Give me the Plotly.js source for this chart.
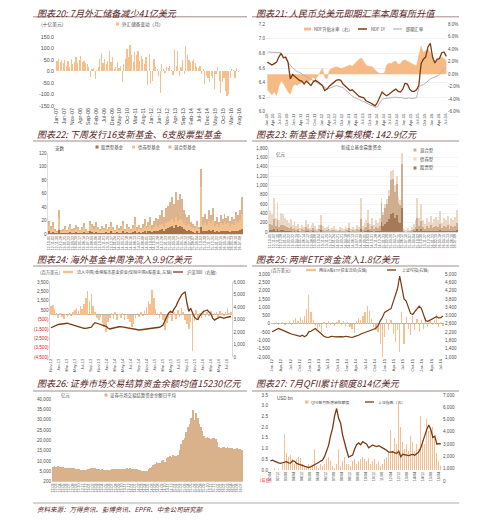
<!DOCTYPE html>
<html><head><meta charset="utf-8">
<script src="https://cdn.plot.ly/plotly-3.0.1.min.js"></script>
<style>html,body{margin:0;padding:0;background:#fff;}#chart{width:499px;height:520px;}</style>
</head><body><div id="chart"></div>
<script>
// ---------- DATA ----------
const titles = ['图表20: 7月外汇储备减少41亿美元','图表21: 人民币兑美元即期汇率本周有所升值','图表22: 下周发行16支新基金、6支股票型基金','图表23: 新基金预计募集规模: 142.9亿元','图表24: 海外基金单周净流入9.9亿美元','图表25: 两岸ETF资金流入1.8亿美元','图表26: 证券市场交易结算资金余额均值15230亿元','图表27: 7月QFII累计额度814亿美元'];
const footer = '资料来源：万得资讯、彭博资讯、EPFR、中金公司研究部';

// P20 monthly FX reserve change (bn USD) Jan-07..Jul-16
const fxResChange = [45,52,42,50,38,47,25,45,20,55,30,40,
 62,35,48,68,40,45,38,30,20,-25,10,15,
 -35,5,20,55,80,38,53,30,45,90,40,60,
 10,20,40,15,25,-47,30,55,95,60,114,70,
 40,85,70,90,45,65,55,30,60,-60,74,-54,
 -40,53,20,10,-20,-95,30,10,-5,20,15,25,
 5,-15,96,25,90,-20,20,50,-10,110,70,50,
 40,45,55,35,20,15,25,-10,10,-55,-20,-30,
 -45,-20,-30,-75,-10,17,-40,-94,-45,-30,-87,-108,
 -99,-29,10,7,-28,13,-4];
const p20Ticks = ['-150.0','-100.0','-50.0','0.0','50.0','100.0','150.0'];

// P21 monthly Jan-10..Jul-16
const ndf1y = [6.68,6.66,6.64,6.66,6.68,6.75,6.80,6.74,6.75,6.68,6.45,6.51,6.48,6.45,6.43,6.42,6.38,6.42,6.39,6.36,6.41,6.43,6.41,6.38,6.36,6.29,6.31,6.35,6.38,6.41,6.43,6.44,6.43,6.38,6.35,6.31,6.29,6.30,6.27,6.24,6.21,6.20,6.19,6.15,6.14,6.12,6.10,6.08,6.13,6.21,6.27,6.24,6.22,6.24,6.27,6.29,6.31,6.28,6.27,6.31,6.39,6.38,6.31,6.28,6.28,6.30,6.36,6.66,6.72,6.75,6.89,6.94,6.75,6.67,6.72,6.73,6.81,6.82,6.76];
const spotRate = [6.82,6.82,6.82,6.82,6.82,6.82,6.81,6.76,6.72,6.67,6.63,6.60,6.58,6.55,6.54,6.52,6.50,6.48,6.47,6.44,6.42,6.40,6.39,6.37,6.36,6.33,6.31,6.32,6.33,6.35,6.36,6.35,6.34,6.33,6.30,6.27,6.24,6.21,6.19,6.18,6.16,6.15,6.14,6.12,6.11,6.09,6.08,6.06,6.07,6.12,6.17,6.18,6.18,6.18,6.19,6.20,6.20,6.20,6.20,6.19,6.18,6.19,6.19,6.18,6.19,6.19,6.33,6.36,6.37,6.39,6.42,6.45,6.46,6.48,6.49,6.51,6.55,6.59,6.61];
const ndfPremium = [-2.5,-3.0,-3.3,-2.8,-3.4,-2.0,-1.0,-1.5,-2.2,-2.8,-3.2,
 -2.0,-1.6,-1.8,-1.5,-1.4,-1.2,-1.0,-1.3,-0.8,-0.5,-0.8,-0.3,
 0.3,1.0,-0.5,-0.8,
 0.6,0.9,1.0,1.2,1.1,0.9,1.0,1.2,1.4,1.5,1.3,1.7,2.0,2.4,2.6,2.0,1.5,1.3,1.3,1.1,0.6,
 0.3,0.1,0.2,0.2,
 1.5,1.8,1.7,2.0,2.1,1.6,1.7,2.2,2.3,2.1,1.9,1.6,1.5,1.4,
 3.0,4.5,3.5,3.8,4.0,3.5,2.8,2.0,2.5,2.6,2.8,2.5,2.2];
const p21Right = ['-6.0%','-4.0%','-2.0%','0.0%','2.0%','4.0%','6.0%','8.0%'];

// P22 new funds count (biweekly)
const stock22 = [4,2,3,1,1,6,1,2,2,1,2,3,1,2,3,2,1,2,3,1,1,4,3,2,3,2,1,2,2,3,1,2,4,2,1,3,2,2,4,1,3,2,1,3,5,2,3,2,3,4,2,4,5,3,4,5,4,6,7,5,8,9,10,12,9,13,10,12,11,7,6,5,6,4,3,2,4,2,10,4,5,4,6,5,6,3,4,3,5,4,5,4,5,3,4,4,5,4,6,8];
const bond22 = [9,6,8,4,2,18,3,3,6,3,5,7,3,4,6,5,3,5,7,4,2,9,7,6,8,5,4,6,4,7,3,5,8,5,3,6,4,6,9,4,7,5,3,6,10,4,6,4,6,8,5,7,9,5,7,8,6,7,8,6,9,9,10,11,9,12,10,11,10,9,8,8,9,7,6,5,9,5,60,10,12,9,14,11,15,9,11,8,12,10,13,11,12,9,11,10,14,12,15,22];
const mixed22 = [7,4,7,3,2,12,2,3,4,2,3,5,3,3,5,4,2,3,6,3,2,7,5,4,7,3,3,4,3,5,3,4,6,3,2,5,3,4,7,3,5,4,3,4,10,4,5,3,6,10,5,7,11,6,9,11,12,15,20,14,21,24,28,32,27,37,30,37,31,19,16,12,13,7,6,5,7,3,27,11,13,9,15,12,17,8,10,7,11,8,12,9,10,8,11,8,13,12,15,25];

// P23 new fund size (亿元)
const stock23 = [40,40,70,30,60,20,40,40,30,20,20,30,10,20,10,20,10,10,10,30,20,10,10,20,10,10,10,40,10,10,10,10,10,10,10,10,0,10,10,10,10,10,20,10,10,10,10,10,70,10,20,30,50,20,30,10,30,20,30,220,130,180,210,270,390,400,300,360,220,200,510,10,0,10,0,10,20,20,70,30,60,20,20,30,20,30,20,30,30,20,40,20,30,30,30,20,30,20,30,50];
const mixed23 = [130,110,210,90,200,80,120,110,90,80,60,80,50,70,40,50,20,50,30,80,50,30,40,60,40,20,50,110,40,20,30,50,20,30,40,20,20,30,20,20,40,30,60,20,30,20,50,30,210,40,60,80,140,50,90,50,80,60,90,400,230,330,390,500,720,730,550,660,410,380,940,20,10,20,20,30,50,80,220,90,180,80,50,90,70,110,60,80,100,80,140,60,90,80,110,50,90,80,100,140];
const bond23 = [280,230,440,180,390,150,240,230,180,150,120,170,90,140,70,110,50,90,60,150,110,50,90,120,70,30,90,210,70,50,60,90,30,50,80,40,30,70,50,30,70,50,120,40,70,30,90,60,440,70,120,150,280,110,180,90,150,120,180,110,60,90,100,130,190,190,150,180,120,100,250,30,30,50,30,60,110,150,440,180,360,150,110,180,130,210,120,170,200,150,270,120,180,150,210,110,180,150,200,290];

// P24 overseas fund flows (mn USD) and CSI300
const flows24 = [900,1100,600,200,-300,150,-200,-400,100,-250,200,-150,300,500,700,400,900,600,1200,1800,2500,1500,2200,900,300,-300,-600,-200,-900,-1300,-1800,-800,-300,200,-400,300,-600,100,-300,200,-500,100,-400,-800,-1300,-1000,-300,200,-200,300,-100,400,800,1500,1200,2700,1800,600,200,-300,300,-500,-1600,-900,-300,400,-700,300,-400,500,-200,700,300,-600,-1000,-1500,-800,-3900,-700,500,-400,200,-300,400,-200,300,-100,400,-300,200,300,-200,400,200,-150,300,700,200,300];
const csi300 = [2340,2420,2500,2560,2600,2620,2640,2660,2720,2700,2650,2600,2560,2500,2460,2430,2380,2330,2300,2290,2320,2350,2380,2600,2750,2700,2640,2600,2560,2500,2450,2320,2240,2280,2330,2370,2400,2420,2430,2400,2380,2360,2340,2300,2270,2230,2200,2180,2160,2180,2200,2210,2220,2240,2250,2270,2290,2320,2350,2380,2450,2560,2900,3250,3500,3650,3550,3850,4050,4400,4700,4950,5100,5200,4300,3650,3900,3500,3200,3050,3000,3300,3500,3650,3700,3760,3600,3450,3100,2950,3050,3100,3200,3150,3100,3150,3200,3220,3240];
const p24LeftVals = [3500,2500,1500,500,-500,-1500,-2500,-3500,-4500];
const p24LeftText = ['3,500','2,500','1,500','500','<span style="color:#e02020">(500)</span>','<span style="color:#e02020">(1,500)</span>','<span style="color:#e02020">(2,500)</span>','<span style="color:#e02020">(3,500)</span>','<span style="color:#e02020">(4,500)</span>'];

// P25 cross-strait ETF flows and SH composite
const etf25 = [50,-30,80,-50,30,100,-80,60,150,-100,200,350,150,400,250,450,900,1750,700,200,-150,-300,-200,-500,100,-250,150,-100,80,-150,100,200,-80,150,-120,100,-200,-300,-550,150,350,250,500,700,1050,800,300,-200,-350,-500,-1200,-2000,-800,300,-400,200,-600,-1100,-400,-1700,700,-1200,400,-300,-700,500,-400,300,-500,200,-300,400,-200,150,-100,200,600,-200,100,-150];
const shcomp25 = [2215,2280,2340,2380,2330,2280,2220,2180,2150,2110,2080,2050,2010,2000,2050,1980,2050,2210,2240,2300,2370,2280,2180,2050,2000,1960,1940,1980,2000,1970,1980,2000,1980,1970,2000,1980,1960,1940,1980,2010,2050,2110,2150,2165,2200,2240,2300,2340,2400,2500,2740,2900,3150,3230,3280,3330,3650,3950,4300,4900,4300,3800,3700,3350,3100,3050,3190,3350,3450,3350,3000,2750,2720,2780,2820,2860,2940,2890,2900,2980];
const p25LeftVals = [-2000,-1500,-1000,-500,0,500,1000,1500,2000,2500,3000];
const p25LeftText = ['-2,000','-1,500','-1,000','-500','0','500','1,000','1,500','2,000','2,500','3,000'];

// P26 settlement fund balance (亿元)
const settle26 = [7300,7400,7200,7500,7300,7200,6900,6800,6700,6600,6700,6500,6600,6400,6300,6100,6000,5800,5700,5600,5700,6000,6300,6600,6800,6600,6500,6200,6100,5900,6000,5800,5900,5700,5800,5900,6100,6000,6200,6300,6100,6200,6000,6100,6300,6400,6200,6500,6300,6100,6200,6000,5800,5500,5300,5100,5000,5300,6000,6800,7200,8000,8600,9400,8900,9200,9800,10500,9700,11500,12000,12500,11800,12900,12300,12600,13000,15500,18000,20000,21000,24000,26500,28000,31000,34500,30000,33000,31000,28000,26500,24500,22000,21000,21500,21000,20500,21200,21000,20800,19000,17000,16500,16800,16600,16400,16700,16500,16200,16300,15800,16000,16400,15900,15600,15230];
const p26Vals = [0,5000,10000,15000,20000,25000,30000,35000,40000];
const p26Text = ['200','5,000','10,000','15,000','20,000','25,000','30,000','35,000','40,000'];

// P27 QFII quota (USD bn, bimonthly) and SH index
const qfii27 = [0,0,0.1,0,0.05,0,0.3,1.7,0.8,0.6,0.7,0.5,0.3,0.5,0.6,0.55,0.3,0.2,0.15,0.3,0.1,0.2,1.0,0.2,0.1,0.3,0.2,0.3,0.5,0.6,0.4,0.2,0.1,0.3,1.0,0.2,0.4,0.6,0.3,0.3,0.2,0.4,0.5,0.3,0.4,0.5,0.6,0.5,0.4,0.55,0.3,0.4,0.5,0.3,0.4,0.2,0.3,0.5,0.6,0.8,1.85,0.9,1.5,1.2,3.1,2.0,1.3,1.0,1.2,0.9,1.6,1.3,0.9,1.2,1.0,2.5,1.4,1.2,2.4,1.8,2.0,2.0,1.6,0.8,0.4,0.2];
const shIdx27 = [1630,1700,1620,1520,1470,1440,1500,1540,1570,1480,1460,1650,1600,1440,1380,1340,1300,1230,1160,1100,1150,1240,1300,1370,1500,1620,1700,2000,2450,2900,3700,4300,5300,5900,5100,4700,3740,3000,2500,1950,2000,2110,2600,2950,3100,2950,3200,3100,3000,2700,2800,2930,2850,2800,2870,2800,2710,2600,2480,2360,2350,2380,2280,2250,2420,1980,2170,2130,2100,2060,2120,2170,2100,2200,2350,2700,3250,3800,4200,4550,4200,3550,3650,3000,3050,3000];
const p27LeftVals = [0,0.5,1,1.5,2,2.5,3,3.5];

// ---------- HELPERS ----------
const W=499,H=520;
const X=p=>p/W, Y=p=>1-p/H;
const DAY=86400000, MONTH=2629746000;
const CJK='"Noto Sans CJK SC","Noto Sans",sans-serif';
const NUM='"Liberation Sans",Arial,sans-serif';
const ORANGE='#f5c08e', BROWN='#7a3a12', GREY='#b5b5b5', TXT='#4d4d4d';
const tf=(s)=>({size:s||5,color:TXT,family:NUM});
function ax(o){return Object.assign({showgrid:false,zeroline:false,showline:false,ticks:'',tickfont:tf(5),ticklen:0},o);}
function xd(o){return ax(Object.assign({type:'date',tickangle:-90,tickfont:tf(4.5)},o));}

const ann=[], shp=[];
function T(txt,x,y,size,color,extra){ann.push(Object.assign({text:txt,x:X(x),y:Y(y),xref:'paper',yref:'paper',xanchor:'left',yanchor:'middle',showarrow:false,font:{size:size,color:color||TXT,family:CJK}},extra||{}));}
function R(x0,y0,x1,y1,c){shp.push({type:'rect',xref:'paper',yref:'paper',x0:X(x0),x1:X(x1),y0:Y(y1),y1:Y(y0),fillcolor:c,line:{width:0}});}
function L(x0,y0,x1,y1,c,w){shp.push({type:'line',xref:'paper',yref:'paper',x0:X(x0),x1:X(x1),y0:Y(y0),y1:Y(y1),line:{color:c,width:w||1}});}

// ---------- TRACES ----------
const traces=[];
// P20
traces.push({type:'bar',x0:'2007-01-16',dx:MONTH,y:fxResChange,width:MONTH*0.75,marker:{color:ORANGE},xaxis:'x',yaxis:'y'});
// P21 (area on base y2 right axis, lines on overlay y3 left axis)
traces.push({type:'scatter',mode:'lines',x0:'2010-01-15',dx:MONTH,y:ndfPremium,fill:'tozeroy',fillcolor:'#f6bb85',line:{color:'#f6bb85',width:0.5},xaxis:'x2',yaxis:'y2'});
traces.push({type:'scatter',mode:'lines',x0:'2010-01-15',dx:MONTH,y:spotRate,line:{color:GREY,width:1},xaxis:'x2',yaxis:'y3'});
traces.push({type:'scatter',mode:'lines',x0:'2010-01-15',dx:MONTH,y:ndf1y,line:{color:BROWN,width:1.3},xaxis:'x2',yaxis:'y3'});
// P22
const c22=['#a5724c','#f4c08c','#dcb48e'];
[stock22,bond22,mixed22].forEach((arr,k)=>traces.push({type:'bar',x0:'2012-10-05',dx:14*DAY,y:arr,width:14*DAY,marker:{color:c22[k],line:{width:0}},xaxis:'x3',yaxis:'y4'}));
// P23
const c23=['#a57a58','#cfae90','#ecd6c4'];
[stock23,mixed23,bond23].forEach((arr,k)=>traces.push({type:'bar',x0:'2012-10-05',dx:14*DAY,y:arr,width:14*DAY,marker:{color:c23[k],line:{width:0}},xaxis:'x4',yaxis:'y5'}));
// P24
traces.push({type:'bar',x0:'2012-11-02',dx:14*DAY,y:flows24,width:12*DAY,marker:{color:ORANGE},xaxis:'x5',yaxis:'y6'});
traces.push({type:'scatter',mode:'lines',x0:'2012-11-02',dx:14*DAY,y:csi300,line:{color:BROWN,width:1.3},xaxis:'x5',yaxis:'y7'});
// P25
traces.push({type:'bar',x0:'2012-01-06',dx:21*DAY,y:etf25,width:12*DAY,marker:{color:ORANGE},xaxis:'x6',yaxis:'y8'});
traces.push({type:'scatter',mode:'lines',x0:'2012-01-06',dx:21*DAY,y:shcomp25,line:{color:BROWN,width:1.2},xaxis:'x6',yaxis:'y9'});
// P26
traces.push({type:'bar',x0:'2012-03-02',dx:14*DAY,y:settle26,width:14*DAY,marker:{color:'#d9b28b',line:{width:0}},xaxis:'x7',yaxis:'y10'});
// P27
traces.push({type:'bar',x0:'2002-04-15',dx:2*MONTH,y:qfii27,width:MONTH*1.1,marker:{color:ORANGE},xaxis:'x8',yaxis:'y11'});
traces.push({type:'scatter',mode:'lines',x0:'2002-04-15',dx:2*MONTH,y:shIdx27,line:{color:BROWN,width:1.3},xaxis:'x8',yaxis:'y12'});

// ---------- ANNOTATIONS / SHAPES ----------
const TCOL='#5a2626';
const tpos=[[35,12.5],[254,12.5],[35,134.5],[254,134.5],[35,258.5],[254,258.5],[35,382.5],[254,382.5]];
titles.forEach((t,i)=>T(t,tpos[i][0],tpos[i][1],9.1,TCOL,{font:{size:9.1,color:TCOL,family:CJK,style:'italic',weight:'normal'}}));
[[16.8],[141],[266],[391]].forEach(r=>{L(33,r[0],247,r[0],'#8c6f6f',0.8);L(252,r[0],459,r[0],'#8c6f6f',0.8);});
L(33,503,459,503,'#9a9a9a',0.8);
T(footer,35,508.5,6.5,TCOL,{font:{size:6.5,color:TCOL,family:CJK,style:'italic'}});

// P20
T('(十亿美元)',39,24,4.8);
R(116,22.5,119,25.5,ORANGE); T('外汇储备变动（月）',120,24,4.6);
// P21
R(304,27.5,311,30.5,'#f6bb85'); T('NDF升贴水率（右）',312,29,4.3);
L(358,29,367,29,BROWN,1.5); T('NDF 1Y',369,29,4.3);
L(393,29,402,29,GREY,1.2); T('即期汇率',404,29,4.3);
// P22
T('支数',53,148,4.6);
R(95.5,145.5,98.5,148.5,c22[0]); T('股票型基金',99,147,4.4);
R(132,145.5,135,148.5,c22[1]); T('债券型基金',135.5,147,4.4);
R(168.5,145.5,171.5,148.5,c22[2]); T('混合型基金',172,147,4.4);
// P23
T('新成立基金募集资金',339,147,4.5);
T('亿元',274,154,4.5);
R(413.5,148.5,416.5,151.5,c23[1]); T('混合型',418,150,4.4);
R(413.5,157.5,416.5,160.5,c23[2]); T('债券型',418,159,4.4);
R(413.5,166.5,416.5,169.5,c23[0]); T('股票型',418,168,4.4);
// P24
T('(百万美元)',38,272,4.3);
R(63,270.8,73,273.2,ORANGE); T('流入中国/香港股市基金资金(仅除中国A股基金, 左轴)',74.5,272,4.1);
L(173,272,183,272,BROWN,1.3); T('沪深300（右轴）',184.5,272,4.2);
// P25
T('(百万美元)',269,270,4.2);
R(306,268.8,316,271.2,ORANGE); T('两岸A股ETF资金流动(左轴)',317,270,4.0);
L(387,270,396,270,BROWN,1.3); T('上证综指(右轴)',400,270,4.0);
// P26
T('亿元',59,395,4.5);
R(104.5,393.5,107.5,396.5,'#d9b28b'); T('证券市场交易结算资金余额日平均',108,395,4.4);
// P27
T('USD bn',275,398,4.5,TXT,{font:{size:4.5,color:TXT,family:NUM}});
R(305,400.5,308.5,403.5,ORANGE); T('QFII每月新增审批额度',309,402,3.9);
L(365,402,374,402,BROWN,1.3); T('上证指数（右）',375.5,402,3.9);
T('(年份)',258,480.5,4.4,'#e03030');

// ---------- LAYOUT ----------
const layout={
 width:W,height:H,margin:{l:0,r:0,t:0,b:0},paper_bgcolor:'#fff',plot_bgcolor:'rgba(0,0,0,0)',
 showlegend:false,barmode:'stack',bargap:0,hovermode:false,
 annotations:ann,shapes:shp,
 // P20
 xaxis:xd({domain:[X(55),X(240)],anchor:'y',range:['2006-12-10','2016-08-20'],tick0:'2007-01-01',dtick:'M5',tickformat:'%b-%y',tickfont:tf(5.3)}),
 yaxis:ax({domain:[Y(106),Y(36.7)],anchor:'x',range:[-150,150],tickvals:[-150,-100,-50,0,50,100,150],ticktext:p20Ticks,tickfont:tf(5.3)}),
 // P21
 xaxis2:xd({domain:[X(266),X(447)],anchor:'y2',range:['2009-12-28','2016-07-25'],tick0:'2010-01-01',dtick:'M3',tickformat:'%b-%y',tickfont:tf(4.2)}),
 yaxis2:ax({domain:[Y(111.7),Y(24.3)],anchor:'x2',side:'right',range:[-6,8],tickvals:[-6,-4,-2,0,2,4,6,8],ticktext:p21Right,tickfont:tf(4.5)}),
 yaxis3:ax({overlaying:'y2',anchor:'x2',side:'left',range:[6.0,7.2],dtick:0.2,tick0:6,tickformat:'.1f',showgrid:true,gridcolor:'#e6e6e6',gridwidth:0.6,tickfont:tf(4.5)}),
 // P22
 xaxis3:xd({domain:[X(48),X(243)],anchor:'y4',range:['2012-09-28','2016-07-29'],tick0:'2012-10-05',dtick:28*DAY,tickformat:'%y-%m-%d',tickfont:tf(3.6),showline:true,linecolor:'#c8c8c8',linewidth:0.6}),
 yaxis4:ax({domain:[Y(234),Y(153.3)],anchor:'x3',range:[0,120],dtick:20,showline:true,linecolor:'#c8c8c8',linewidth:0.6,tickfont:tf(4.5)}),
 // P23
 xaxis4:xd({domain:[X(269),X(458)],anchor:'y5',range:['2012-09-28','2016-07-29'],tick0:'2012-10-05',dtick:28*DAY,tickformat:'%y-%m-%d',tickfont:tf(3.6),showline:true,linecolor:'#c8c8c8',linewidth:0.6}),
 yaxis5:ax({domain:[Y(232),Y(148)],anchor:'x4',range:[0,1800],dtick:200,tickformat:',d',showgrid:true,gridcolor:'#eeeeee',gridwidth:0.6,showline:true,linecolor:'#d0d0d0',linewidth:0.6,tickfont:tf(4.5)}),
 // P24
 xaxis5:xd({domain:[X(50),X(232)],anchor:'y6',range:['2012-10-26','2016-08-12'],tick0:'2012-11-01',dtick:'M2',tickformat:'%b-%y',tickfont:tf(4)}),
 yaxis6:ax({domain:[Y(357),Y(282)],anchor:'x5',range:[-4500,3500],tickvals:p24LeftVals,ticktext:p24LeftText,zeroline:true,zerolinecolor:'#a0a0a0',zerolinewidth:0.8,showline:true,linecolor:'#bdbdbd',linewidth:0.6,tickfont:tf(4.6)}),
 yaxis7:ax({overlaying:'y6',anchor:'x5',side:'right',range:[0,6000],dtick:1000,tickformat:',d',showline:true,linecolor:'#bdbdbd',linewidth:0.6,tickfont:tf(4.6)}),
 // P25
 xaxis6:xd({domain:[X(271),X(444)],anchor:'y8',range:['2011-12-27','2016-08-01'],tick0:'2012-01-01',dtick:'M3',tickformat:'%b-%y',tickfont:tf(4.2)}),
 yaxis8:ax({domain:[Y(357),Y(274)],anchor:'x6',range:[-2000,3000],tickvals:p25LeftVals,ticktext:p25LeftText,zeroline:true,zerolinecolor:'#a0a0a0',zerolinewidth:0.8,tickfont:tf(4.6)}),
 yaxis9:ax({overlaying:'y8',anchor:'x6',side:'right',range:[1000,5000],dtick:400,tick0:1000,tickformat:',d',tickfont:tf(4.6)}),
 // P26
 xaxis7:xd({domain:[X(52),X(243)],anchor:'y10',range:['2012-02-24','2016-08-05'],tick0:'2012-03-02',dtick:28*DAY,tickformat:'%y-%m',tickfont:tf(3.6)}),
 yaxis10:ax({domain:[Y(481.7),Y(399)],anchor:'x7',range:[0,40000],tickvals:p26Vals,ticktext:p26Text,tickfont:tf(4.6)}),
 // P27
 xaxis8:xd({domain:[X(269),X(442)],anchor:'free',position:Y(470),range:['2002-03-01','2016-07-20'],tick0:'2002-04-01',dtick:'M8',tickformat:'%y/%m',tickfont:tf(3.8)}),
 yaxis11:ax({domain:[Y(481),Y(395)],anchor:'x8',range:[-0.513,3.5],tickvals:p27LeftVals,tickformat:'.1f',tickfont:tf(4.6)}),
 yaxis12:ax({overlaying:'y11',anchor:'x8',side:'right',range:[0,7000],dtick:1000,tickformat:',d',tickfont:tf(4.6)})
};
Plotly.newPlot('chart',traces,layout,{staticPlot:true,displayModeBar:false});
</script></body></html>
